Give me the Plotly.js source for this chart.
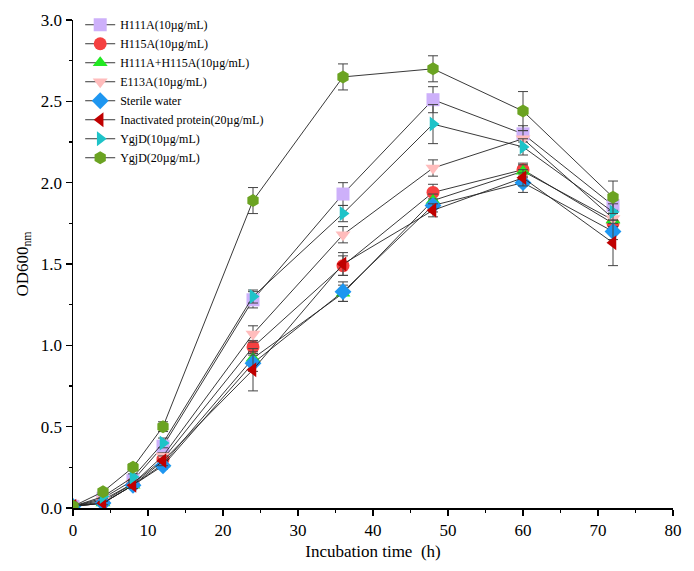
<!DOCTYPE html>
<html>
<head>
<meta charset="utf-8">
<script src="https://cdn.plot.ly/plotly-3.0.1.min.js"></script>
<style>
  html, body { margin: 0; padding: 0; background: #fff; }
  #chart { width: 694px; height: 571px; }
</style>
</head>
<body>
<div id="chart"></div>
<script>
// Sampling times (h)
const hours = [0, 4, 8, 12, 24, 36, 48, 60, 72];

// OD600 readings per treatment
const h111a    = [0.01, 0.06, 0.17, 0.38, 1.28, 1.93, 2.51, 2.30, 1.86];
const h115a    = [0.01, 0.04, 0.15, 0.30, 0.99, 1.49, 1.94, 2.08, 1.75];
const h111h115 = [0.01, 0.03, 0.14, 0.27, 0.92, 1.32, 1.89, 2.07, 1.77];
const e113a    = [0.01, 0.05, 0.15, 0.32, 1.07, 1.68, 2.09, 2.27, 1.78];
const water    = [0.01, 0.03, 0.14, 0.26, 0.89, 1.33, 1.86, 2.00, 1.70];
const inactive = [0.01, 0.03, 0.14, 0.29, 0.85, 1.50, 1.83, 2.03, 1.63];
const ygjd10   = [0.01, 0.07, 0.19, 0.40, 1.30, 1.81, 2.36, 2.22, 1.82];
const ygjd20   = [0.01, 0.10, 0.25, 0.50, 1.89, 2.65, 2.70, 2.44, 1.91];

// standard deviations
const h111aErr    = [0.01, 0.01, 0.02, 0.03, 0.05, 0.07, 0.08, 0.05, 0.04];
const h115aErr    = [0.01, 0.01, 0.02, 0.02, 0.04, 0.06, 0.05, 0.04, 0.04];
const h111h115Err = [0.01, 0.01, 0.02, 0.02, 0.04, 0.05, 0.04, 0.04, 0.04];
const e113aErr    = [0.01, 0.01, 0.02, 0.02, 0.05, 0.05, 0.05, 0.05, 0.05];
const waterErr    = [0.01, 0.01, 0.02, 0.02, 0.05, 0.06, 0.04, 0.06, 0.05];
const inactiveErr = [0.01, 0.01, 0.02, 0.03, 0.13, 0.07, 0.04, 0.05, 0.14];
const ygjd10Err   = [0.01, 0.01, 0.02, 0.03, 0.04, 0.05, 0.12, 0.05, 0.05];
const ygjd20Err   = [0.01, 0.01, 0.02, 0.03, 0.08, 0.08, 0.08, 0.12, 0.10];

const names = [
  "H111A(10\u00b5g/mL)",
  "H115A(10\u00b5g/mL)",
  "H111A+H115A(10\u00b5g/mL)",
  "E113A(10\u00b5g/mL)",
  "Sterile water",
  "Inactivated protein(20\u00b5g/mL)",
  "YgjD(10\u00b5g/mL)",
  "YgjD(20\u00b5g/mL)"
];
const values = [h111a, h115a, h111h115, e113a, water, inactive, ygjd10, ygjd20];
const errors = [h111aErr, h115aErr, h111h115Err, e113aErr, waterErr, inactiveErr, ygjd10Err, ygjd20Err];
const symbols = ["square", "circle", "triangle-up", "triangle-down", "diamond", "triangle-left", "triangle-right", "hexagon"];
const colors = ["#CDB0FA", "#F54040", "#22E822", "#FFBCBC", "#1E96F0", "#C00000", "#1EC3C8", "#6BA322"];

const traces = values.map((v, i) => ({
  x: hours,
  y: v,
  name: names[i],
  type: "scatter",
  mode: "lines+markers",
  line: { color: "#222", width: 0.9 },
  marker: { symbol: symbols[i], color: colors[i], size: 13, line: { width: 0 } },
  error_y: { type: "data", array: errors[i], visible: true, color: "#444", thickness: 1, width: 5 }
}));

const layout = {
  width: 694,
  height: 571,
  margin: { l: 73, r: 21, t: 10, b: 63 },
  paper_bgcolor: "#fff",
  plot_bgcolor: "#fff",
  font: { family: "Liberation Serif, Times New Roman, serif", color: "#000" },
  showlegend: true,
  legend: {
    x: 0.012, y: 1.02, xanchor: "left", yanchor: "top",
    bgcolor: "rgba(0,0,0,0)",
    font: { size: 12, family: "Liberation Serif, serif" },
    itemwidth: 30,
    tracegroupgap: 0
  },
  xaxis: {
    range: [0, 80],
    dtick: 10,
    showgrid: false,
    zeroline: false,
    showline: true,
    linecolor: "#000",
    linewidth: 1.5,
    ticks: "outside",
    ticklen: 6,
    tickwidth: 1.5,
    tickcolor: "#000",
    minor: { dtick: 5, ticks: "outside", ticklen: 3, tickwidth: 1.2, tickcolor: "#000" },
    tickfont: { size: 17 },
    title: { text: "Incubation time  (h)", font: { size: 17 }, standoff: 6 }
  },
  yaxis: {
    range: [0, 3],
    dtick: 0.5,
    tickformat: ".1f",
    showgrid: false,
    zeroline: false,
    showline: true,
    linecolor: "#000",
    linewidth: 1.5,
    ticks: "outside",
    ticklen: 6,
    tickwidth: 1.5,
    tickcolor: "#000",
    minor: { dtick: 0.25, ticks: "outside", ticklen: 3, tickwidth: 1.2, tickcolor: "#000" },
    tickfont: { size: 17 },
    title: { text: "OD600<sub>nm</sub>", font: { size: 17 }, standoff: 8 }
  }
};

Plotly.newPlot("chart", traces, layout, { displayModeBar: false, staticPlot: true });
</script>
</body>
</html>
